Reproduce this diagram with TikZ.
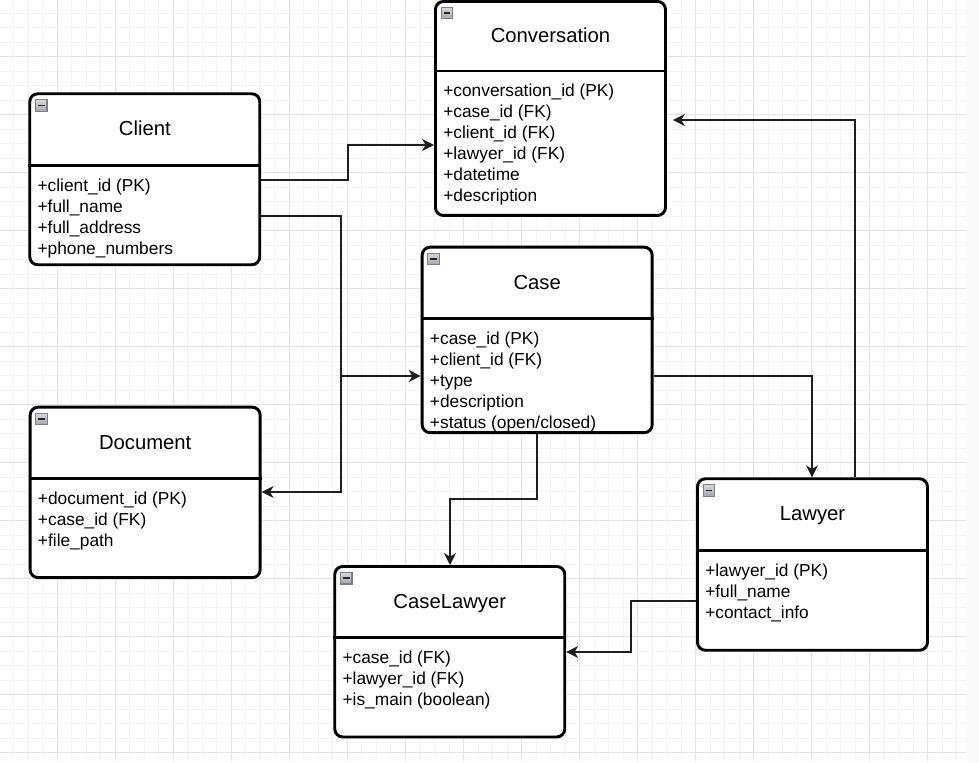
\documentclass[tikz,border=0pt]{standalone}
\usepackage{fontspec}
\setmainfont{Liberation Sans}
\usetikzlibrary{arrows.meta,calc}
\definecolor{gridminor}{HTML}{F3F3F3}
\definecolor{gridmajor}{HTML}{E3E3E3}
\definecolor{linecol}{HTML}{1E1E1E}
\definecolor{icontop}{HTML}{D6D8DC}
\definecolor{iconbot}{HTML}{A4A7AC}
\definecolor{iconedge}{HTML}{7C7F84}
\tikzset{
  gminor/.style={draw=gridminor, line width=0.75pt},
  gmajor/.style={draw=gridmajor, line width=0.75pt},
  classbox/.style={draw=black, line width=2.2pt, rounded corners=6pt, fill=white,
    anchor=north west, minimum width=172.5pt, inner sep=0pt},
  divider/.style={draw=black, line width=2.2pt},
  titletext/.style={anchor=base, inner sep=0pt, font=\fontsize{15.2}{18}\selectfont},
  attrtext/.style={anchor=base west, inner sep=0pt, font=\fontsize{13}{15.75}\selectfont},
  iconbox/.style={draw=iconedge, top color=icontop, bottom color=iconbot, line width=0.8pt,
    anchor=north west, minimum size=8.6pt, inner sep=0pt, outer sep=0pt},
  iconbar/.style={draw=black!85, line width=1.3pt},
  conn/.style={draw=linecol, line width=1.3pt,
    -{Stealth[length=9pt, width=9pt, inset=2.8pt]}},
}
% #1 name, #2 x, #3 y (outer top-left, px), #4 height (px), #5 header (px), #6 title, #7 attributes
\newcommand\umlclass[7]{%
  \node[classbox, minimum height=#4*0.75pt] (#1) at (#2,#3) {};
  \draw[divider] ($(#1.north west)+(0,#5)$) -- ($(#1.north east)+(0,#5)$);
  \node[iconbox] (#1-icon) at ({#2+7.2},{#3+7.5}) {};
  \draw[iconbar] ($(#1-icon.west)+(2.3,0)$) -- ($(#1-icon.east)+(-2.3,0)$);
  \node[titletext] (#1-title) at ({#2+116.5},{#3+#5/2+7}) {#6};
  \foreach \a [count=\i from 0] in {#7} {
    \node[attrtext] (#1-attr\i) at ({#2+9},{#3+#5+26+21*\i}) {\a};
  }%
}
\begin{document}
\begin{tikzpicture}[x=0.75pt, y=-0.75pt]
\useasboundingbox (0,0) rectangle (979,763);
\fill[white] (0,0) rectangle (979,763);
% grid
\foreach \k in {0,...,66} {
  \pgfmathsetmacro\gx{-0.73+14.508*\k}
  \draw[gminor] (\gx,0) -- (\gx,761);
}
\foreach \k in {0,...,52} {
  \pgfmathsetmacro\gy{-1.3+14.5*\k}
  \draw[gminor] (0,\gy) -- (966,\gy);
}
\foreach \k in {0,...,16} {
  \pgfmathsetmacro\gx{-0.73+58.032*\k}
  \draw[gmajor] (\gx,0) -- (\gx,761);
}
\foreach \k in {0,...,13} {
  \pgfmathsetmacro\gy{-1.3+58*\k}
  \draw[gmajor] (0,\gy) -- (966,\gy);
}
\fill[white!98!black] (966.5,0) rectangle (979,763);
\fill[white!98!black] (0,761.5) rectangle (966.5,763);

% classes
\umlclass{client}{28.3}{92.3}{171}{73}{Client}
  {+client\_id (PK), +full\_name, +full\_address, +phone\_numbers}
\umlclass{conv}{434}{0}{214}{71}{Conversation}
  {+conversation\_id (PK), +case\_id (FK), +client\_id (FK), +lawyer\_id (FK), +datetime, +description}
\umlclass{case}{420.7}{245.7}{185.5}{73}{Case}
  {+case\_id (PK), +client\_id (FK), +type, +description, +status (open/closed)}
\umlclass{doc}{28.7}{405.7}{170.5}{73}{Document}
  {+document\_id (PK), +case\_id (FK), +file\_path}
\umlclass{lawyer}{696}{477.3}{171.5}{73}{Lawyer}
  {+lawyer\_id (PK), +full\_name, +contact\_info}
\umlclass{caselawyer}{333.3}{565}{170.5}{72.3}{CaseLawyer}
  {+case\_id (FK), +lawyer\_id (FK), +is\_main (boolean)}

% connectors
\draw[conn] (client.east |- 0,180) -| (348,145) -- (conv.west |- 0,145);
\draw[conn] (client.east |- 0,216) -| (341,376) -- (case.west |- 0,376);
\draw[conn] (client.east |- 0,216) -| (341,492) -- (doc.east |- 0,492);
\draw[conn] (case.east |- 0,376) -| (lawyer.north -| 812,0);
\draw[conn, shorten >=4.5pt] (lawyer.north -| 855,0) |- (conv.east |- 0,120);
\draw[conn] (case.south -| 537,0) |- (450,499) -- (caselawyer.north -| 450,0);
\draw[conn] (lawyer.west |- 0,601) -| (631,652) -- (caselawyer.east |- 0,652);
\end{tikzpicture}
\end{document}
